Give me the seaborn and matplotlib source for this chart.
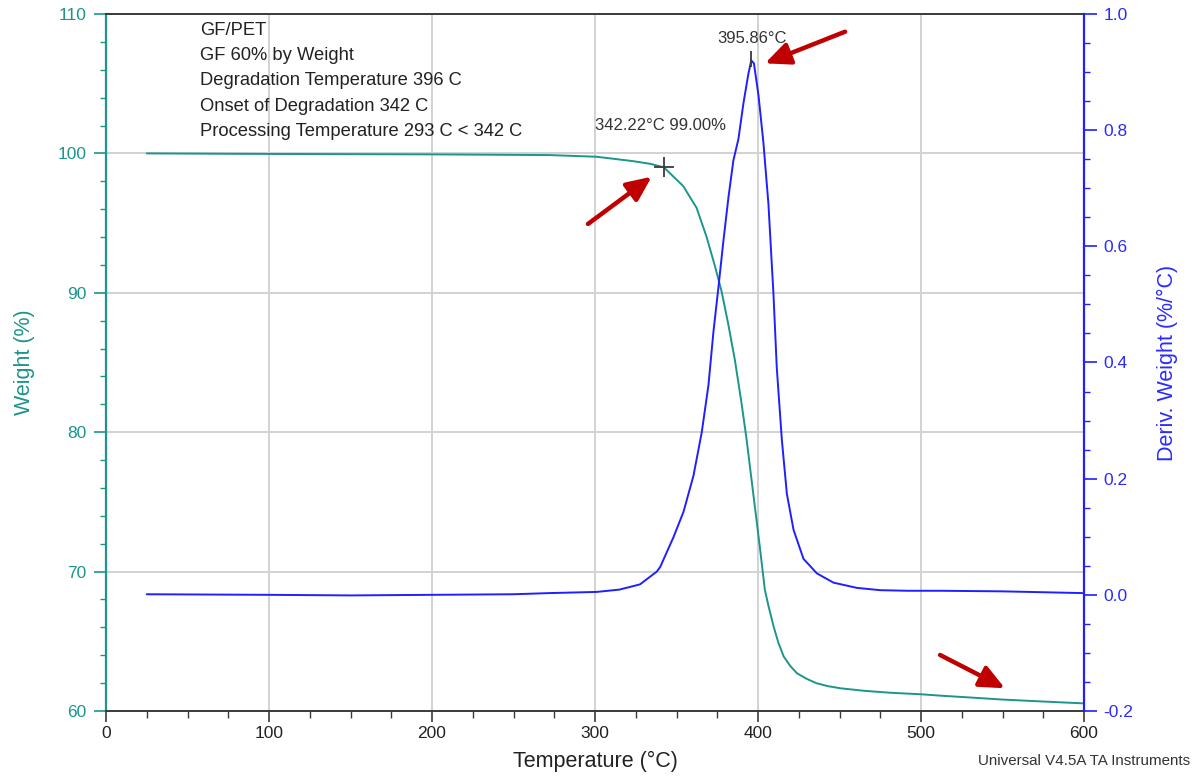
import matplotlib
matplotlib.use("Agg")
import matplotlib.pyplot as plt
import seaborn as sns
import pandas as pd
from matplotlib.ticker import MultipleLocator

# ---------------- data ----------------
temp_weight = [25, 100, 200, 272, 301, 323, 334, 342.22, 354.1, 362.3, 368.4, 373.5, 377.6,
               381.7, 385.8, 389.9, 393.0, 397.1, 401.2, 404.2, 406.5, 409.6, 412.5, 415.8,
               420, 424, 430, 436, 443, 450.6, 465, 481, 500, 512, 530, 550, 575, 599]
weight_pct = [100.0, 99.96, 99.93, 99.88, 99.76, 99.45, 99.25, 99.0, 97.66, 96.10, 94.03, 91.95,
              90.13, 87.79, 85.19, 82.08, 79.48, 75.58, 71.69, 68.7, 67.5, 66.05, 64.9, 63.90,
              63.2, 62.70, 62.3, 61.99, 61.78, 61.63, 61.45, 61.31, 61.2, 61.10, 60.97, 60.82,
              60.68, 60.55]

temp_deriv = [25, 100, 150, 200, 250, 272, 301, 315, 327.6, 337.9, 340, 348.1, 354.3, 360.4,
              365.5, 369.6, 372.7, 375.7, 378.8, 381.9, 384.9, 388.0, 391.1, 394.1, 395.86,
              397.5, 400.3, 403.3, 406.4, 409.5, 411.5, 414.6, 417.7, 421.8, 427.9, 436.1,
              446.3, 460.6, 475, 492, 512, 550, 599]
deriv_weight = [0.001, 0.0, -0.001, 0.0, 0.001, 0.003, 0.005, 0.009, 0.018, 0.040, 0.048, 0.099,
                0.143, 0.205, 0.280, 0.361, 0.454, 0.529, 0.610, 0.685, 0.748, 0.785, 0.847,
                0.897, 0.920, 0.915, 0.860, 0.779, 0.673, 0.517, 0.392, 0.268, 0.174, 0.112,
                0.062, 0.037, 0.021, 0.012, 0.008, 0.007, 0.007, 0.006, 0.003]

info_lines = ["GF/PET", "GF 60% by Weight", "Degradation Temperature 396 C",
              "Onset of Degradation 342 C", "Processing Temperature 293 C < 342 C"]
onset_point = (342.22, 99.00)
peak_temp = 395.86

x_ticks = [0, 100, 200, 300, 400, 500, 600]
left_ticks = [60, 70, 80, 90, 100, 110]
right_ticks = [-0.2, 0.0, 0.2, 0.4, 0.6, 0.8, 1.0]

# ---------------- style ----------------
sns.set_style("white")
plt.rcParams['font.family'] = ['Liberation Sans', 'DejaVu Sans']

TEAL = '#1c958b'
BLUE = '#1f1fff'
BLUE_TXT = '#2b2bff'
DARK = '#3a3a3a'
GRID = '#d2d2d2'
RED = '#c00000'

fig = plt.figure(figsize=(11.94, 7.76), dpi=100)
ax = fig.add_axes([106/1194, 1 - 711/776, (1084-106)/1194, (711-14)/776])
ax2 = ax.twinx()

df_w = pd.DataFrame({"Temperature": temp_weight, "Weight": weight_pct})
df_d = pd.DataFrame({"Temperature": temp_deriv, "Deriv": deriv_weight})

sns.lineplot(data=df_w, x="Temperature", y="Weight", ax=ax, color=TEAL, lw=1.4, zorder=3)
sns.lineplot(data=df_d, x="Temperature", y="Deriv", ax=ax2, color=BLUE, lw=1.4, zorder=3)

ax.set_xlim(0, 600)
ax.set_ylim(60, 110)
ax2.set_ylim(-0.2, 1.0)

ax.set_xticks(x_ticks)
ax.set_yticks(left_ticks)
ax2.set_yticks(right_ticks)
ax2.set_yticklabels([f"{v:.1f}" for v in right_ticks])
ax.xaxis.set_minor_locator(MultipleLocator(25))
ax.yaxis.set_minor_locator(MultipleLocator(2))
ax2.yaxis.set_minor_locator(MultipleLocator(0.05))

# grid
ax.grid(True, which='major', color=GRID, lw=1.4)
ax.set_axisbelow(True)

# spines
for s in ['top', 'bottom']:
    ax.spines[s].set_color(DARK)
    ax.spines[s].set_linewidth(1.4)
ax.spines['left'].set_color(TEAL)
ax.spines['left'].set_linewidth(1.6)
ax.spines['right'].set_visible(False)
ax2.spines['right'].set_color(BLUE)
ax2.spines['right'].set_linewidth(1.6)
for s in ['top', 'bottom', 'left']:
    ax2.spines[s].set_visible(False)

ax.tick_params(axis='x', which='major', direction='out', length=8, width=1.2, color=DARK,
               labelsize=12.5, labelcolor='#222222', pad=3, bottom=True)
ax.tick_params(axis='x', which='minor', direction='out', length=5, width=1.0, color=DARK, bottom=True)
ax.tick_params(axis='y', which='major', direction='out', length=9, width=1.2, color=TEAL,
               labelsize=12.5, labelcolor=TEAL, pad=5, left=True)
ax.tick_params(axis='y', which='minor', direction='out', length=4, width=1.0, color=TEAL, left=True)
ax2.tick_params(axis='y', which='major', direction='out', length=9, width=1.2, color=BLUE,
                labelsize=12.5, labelcolor=BLUE_TXT, pad=5, right=True)
ax2.tick_params(axis='y', which='minor', direction='out', length=4, width=1.0, color=BLUE, right=True)

ax.set_xlabel("Temperature (°C)", fontsize=15.5, color='#222222', labelpad=7)
ax.set_ylabel("Weight (%)", fontsize=15.5, color=TEAL, labelpad=16)
ax2.set_ylabel("Deriv. Weight (%/°C)", fontsize=15.5, color=BLUE_TXT, labelpad=17)

# info text block
for i, line in enumerate(info_lines):
    ax.text(57.7, 108.49 - i * 1.808, line, fontsize=13.2, color='#222222',
            ha='left', va='baseline', zorder=5)

# markers & annotations
ax.plot([onset_point[0]], [onset_point[1]], marker='+', ms=14, mew=1.3, color=DARK, zorder=6)
ax.text(340.0, 102.0, f"{onset_point[0]:.2f}°C {onset_point[1]:.2f}%", fontsize=12,
        color='#333333', ha='center', va='center')
ax2.plot([peak_temp], [0.922], marker='|', ms=11, mew=1.3, color=DARK, zorder=6)
ax2.text(396.5, 0.957, f"{peak_temp:.2f}°C", fontsize=12, color='#333333',
         ha='center', va='center')

arrow_kw = dict(arrowstyle='-|>,head_length=1.0,head_width=0.45', lw=3.2, color=RED,
                shrinkA=0, shrinkB=0, mutation_scale=15)
ax.annotate("", xy=(334.8, 98.33), xytext=(295.7, 94.94), arrowprops=arrow_kw, zorder=7)
ax.annotate("", xy=(404.3, 106.46), xytext=(453.4, 108.73), arrowprops=arrow_kw, zorder=7)
ax.annotate("", xy=(551.5, 61.63), xytext=(511.7, 64.02), arrowprops=arrow_kw, zorder=7)

fig.text(1190/1194, 1 - 761/776, "Universal V4.5A TA Instruments", fontsize=10.9,
         color='#333333', ha='right', va='center')

fig.savefig("out.png", dpi=100)
